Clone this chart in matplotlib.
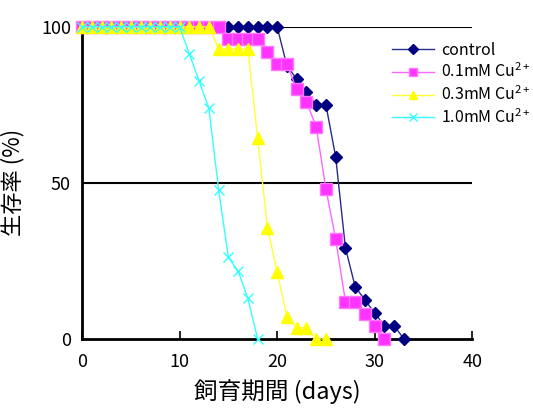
import matplotlib
matplotlib.use('Agg')
import matplotlib.pyplot as plt

plt.rcParams['font.family'] = ['Noto Sans CJK JP', 'DejaVu Sans']
plt.rcParams['mathtext.fontset'] = 'custom'
plt.rcParams['mathtext.rm'] = 'Noto Sans CJK JP'

# survival (%) per day
days_control = list(range(0, 34))
surv_control = [100] * 21 + [87.5, 83.3, 79.2, 75, 75, 58.3, 29.2, 16.7, 12.5, 8.3, 4.2, 4.2, 0]

days_01 = list(range(0, 32))
surv_01 = [100] * 15 + [96, 96, 96, 96, 92, 88, 88, 80, 76, 68, 48, 32, 12, 12, 8, 4, 0]

days_03 = list(range(0, 26))
surv_03 = [100] * 14 + [92.9, 92.9, 92.9, 92.9, 64.3, 35.7, 21.4, 7.1, 3.6, 3.6, 0, 0]

days_10 = list(range(0, 19))
surv_10 = [100] * 11 + [91.3, 82.6, 73.9, 47.8, 26.1, 21.7, 13.0, 0]

labels = ['control', '0.1mM Cu$^{2+}$', '0.3mM Cu$^{2+}$', '1.0mM Cu$^{2+}$']

fig = plt.figure(figsize=(5.33, 4.19), dpi=100)
ax = fig.add_axes([0.154, 0.191, 0.732, 0.745])

# horizontal reference lines
for yv in [50, 100]:
    ax.axhline(yv, color='black', lw=1.5, zorder=1)

ax.plot(days_control, surv_control, color='#2a2a8c', lw=1, marker='D', ms=6,
        mfc='#000080', mec='#000080', label=labels[0], clip_on=False, zorder=3)
ax.plot(days_01, surv_01, color='#ff66ff', lw=1, marker='s', ms=8,
        mfc='#ff33ff', mec='#ff77ff', label=labels[1], clip_on=False, zorder=4)
ax.plot(days_03, surv_03, color='#ffff33', lw=1, marker='^', ms=8,
        mfc='#ffff00', mec='#ffff00', label=labels[2], clip_on=False, zorder=5)
ax.plot(days_10, surv_10, color='#33ffff', lw=1, marker='x', ms=7, mew=1,
        label=labels[3], clip_on=False, zorder=6)

ax.set_xlim(0, 40)
ax.set_ylim(0, 100)
ax.set_xticks([0, 10, 20, 30, 40])
ax.set_yticks([0, 50, 100])
ax.tick_params(axis='x', direction='in', length=6, width=1.2, labelsize=13, pad=10)
ax.tick_params(axis='y', length=0, labelsize=13, pad=8)

for s in ['top', 'right']:
    ax.spines[s].set_visible(False)
ax.spines['left'].set_linewidth(2)
ax.spines['bottom'].set_linewidth(2)

ax.set_xlabel('飼育期間 (days)', fontsize=17, labelpad=6)
ax.set_ylabel('生存率 (%)', fontsize=16, labelpad=12)

ax.legend(loc='upper left', bbox_to_anchor=(0.795, 0.952), frameon=False,
          fontsize=11.5, handlelength=2.6, handletextpad=0.45,
          labelspacing=0.25, borderpad=0, borderaxespad=0, markerscale=0.8)

fig.savefig('out.png', dpi=100)
